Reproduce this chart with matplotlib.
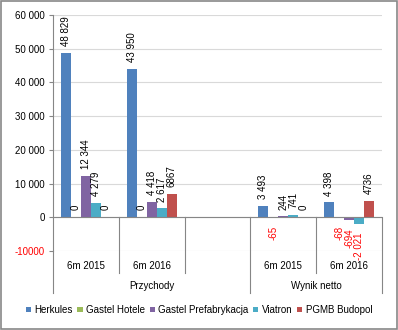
import numpy as np
import matplotlib
matplotlib.use("Agg")
import matplotlib.pyplot as plt
from matplotlib.patches import Rectangle
from matplotlib.transforms import blended_transform_factory

plt.rcParams['font.family'] = ['Liberation Sans', 'DejaVu Sans']
plt.rcParams['font.size'] = 7

# data: 5 slots on the category axis, the middle one is empty
categories = ["6m 2015", "6m 2016", "", "6m 2015", "6m 2016"]
groups = ["Przychody", "Wynik netto"]
series = ["Herkules", "Gastel Hotele", "Gastel Prefabrykacja", "Viatron", "PGMB Budopol"]
colors = ["#4F81BD", "#9BBB59", "#8064A2", "#4BACC6", "#C0504D"]

herkules = [48829, 43950, None, 3493, 4398]
gastel_hotele = [0, 0, None, -65, -68]
gastel_prefab = [12344, 4418, None, 244, -694]
viatron = [4279, 2617, None, 741, -2021]
pgmb = [0, 6867, None, 0, 4736]

herkules_lbl = ["48 829", "43 950", "", "3 493", "4 398"]
gastel_hotele_lbl = ["0", "0", "", "-65", "-68"]
gastel_prefab_lbl = ["12 344", "4 418", "", "244", "-694"]
viatron_lbl = ["4 279", "2 617", "", "741", "-2 021"]
pgmb_lbl = ["0", "6867", "", "0", "4736"]

yticks = [-10000, 0, 10000, 20000, 30000, 40000, 50000, 60000]
ytick_labels = ["-10000", "0", "10 000", "20 000", "30 000", "40 000", "50 000", "60 000"]

values = [herkules, gastel_hotele, gastel_prefab, viatron, pgmb]
labels = [herkules_lbl, gastel_hotele_lbl, gastel_prefab_lbl, viatron_lbl, pgmb_lbl]

fig = plt.figure(figsize=(3.98, 3.30), dpi=100)
ax = fig.add_axes([53/398, 1 - 251/330, (382 - 53)/398, (251 - 15)/330])

x = np.arange(len(categories))
w = 0.152
for i, (name, vals, lbls, c) in enumerate(zip(series, values, labels, colors)):
    xs = [xx + (i - 2) * w for xx, v in zip(x, vals) if v is not None]
    vs = [v for v in vals if v is not None]
    ls = [l for l, v in zip(lbls, vals) if v is not None]
    ax.bar(xs, vs, width=w, color=c, label=name, zorder=2)
    for xx, v, l in zip(xs, vs, ls):
        if v < 0:
            ax.annotate(l, (xx, v), xytext=(0, -6), textcoords="offset points",
                        rotation=90, ha="center", va="top", color="red", fontsize=7)
        else:
            ax.annotate(l, (xx, v), xytext=(0, 5), textcoords="offset points",
                        rotation=90, ha="center", va="bottom", color="black", fontsize=7)

ax.set_xlim(-0.5, 4.5)
ax.set_ylim(-10000, 60000)
ax.set_yticks(yticks)
ax.set_yticklabels(ytick_labels)
for t in ax.get_yticklabels():
    if t.get_text().startswith("-"):
        t.set_color("red")
ax.tick_params(axis="y", length=3, color="#868686", pad=3)
ax.set_xticks([])
ax.yaxis.grid(True, color="#D9D9D9", lw=0.8, zorder=0)
ax.set_axisbelow(True)
for s in ["top", "right", "bottom"]:
    ax.spines[s].set_visible(False)
ax.spines["left"].set_color("#868686")
ax.axhline(0, color="#868686", lw=0.8, zorder=3)

# multi-level category axis drawn by hand
tr = blended_transform_factory(ax.transData, ax.transAxes)
zero = 1 / 7
for xb, long in [(-0.5, True), (0.5, False), (1.5, False), (2.5, True), (3.5, False), (4.5, True)]:
    y0 = 0 if xb == -0.5 else zero
    y1 = -0.178 if long else -0.093
    ax.plot([xb, xb], [y0, y1], transform=tr, color="#868686", lw=0.8, clip_on=False)
for xx, cat in zip(x, categories):
    ax.text(xx, -0.064, cat, transform=tr, ha="center", va="center", fontsize=7)
ax.text(1.0, -0.148, groups[0], transform=tr, ha="center", va="center", fontsize=7)
ax.text(3.5, -0.148, groups[1], transform=tr, ha="center", va="center", fontsize=7)

fig.legend(loc="center", bbox_to_anchor=(0.5, 1 - 310/330), ncol=5, frameon=False,
           handlelength=0.55, handleheight=0.55, handletextpad=0.35, columnspacing=0.45,
           fontsize=7)

fig.patches.append(Rectangle((0.002, 0.003), 0.995, 0.993, transform=fig.transFigure,
                             fill=False, edgecolor="#888888", lw=1.2))

fig.savefig("out.png", dpi=100)
